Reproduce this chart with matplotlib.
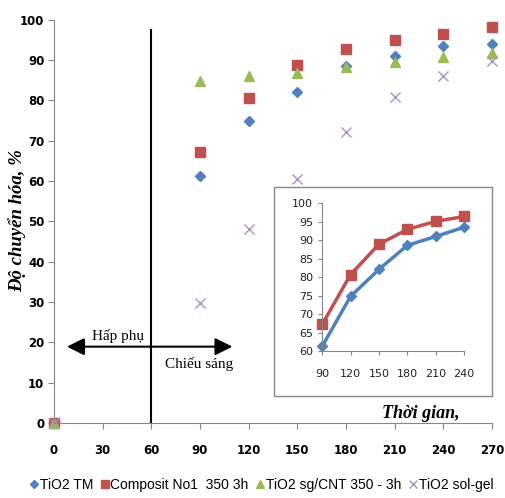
import matplotlib
matplotlib.use('Agg')
import matplotlib.pyplot as plt
from matplotlib.patches import Rectangle

# thoi gian (phut)
t = [0, 90, 120, 150, 180, 210, 240, 270]
tio2_tm = [0, 61.3, 74.8, 82.1, 88.6, 91.0, 93.5, 94.1]
composit = [0, 67.2, 80.7, 88.9, 92.9, 95.1, 96.4, 98.3]
sg_cnt = [0, 84.9, 86.0, 86.9, 88.3, 89.5, 90.7, 91.7]
sol_gel = [0, 29.8, 48.2, 60.4, 72.2, 80.9, 86.1, 89.8]

# do thi nho
t_in = [90, 120, 150, 180, 210, 240]
tm_in = [61.3, 74.8, 82.1, 88.6, 91.0, 93.5]
comp_in = [67.2, 80.7, 88.9, 92.9, 95.1, 96.4]

names = ['TiO2 TM', 'Composit No1  350 3h', 'TiO2 sg/CNT 350 - 3h', 'TiO2 sol-gel']

blue = '#4F81BD'
red = '#C0504D'
green = '#9BBB59'
purple = '#A895C4'
gray = '#868686'

fig = plt.figure(figsize=(5.05, 4.98), dpi=100)
ax = fig.add_axes([0.107, 0.151, 0.867, 0.809])

ax.plot(t, tio2_tm, 'D', color=blue, ms=5.5, ls='none', label=names[0], clip_on=False)
ax.plot(t, composit, 's', color=red, ms=7, ls='none', label=names[1], clip_on=False)
ax.plot(t, sg_cnt, '^', color=green, ms=7.5, ls='none', label=names[2], clip_on=False)
ax.plot(t, sol_gel, 'x', color=purple, ms=7.5, mew=1, ls='none', label=names[3], clip_on=False)

ax.set_xlim(0, 270)
ax.set_ylim(0, 100)
ax.set_xticks(range(0, 271, 30))
ax.set_yticks(range(0, 101, 10))
for s in ['top', 'right']:
    ax.spines[s].set_visible(False)
for s in ['left', 'bottom']:
    ax.spines[s].set_color(gray)
ax.tick_params(colors=gray, length=4, width=0.8, labelcolor='black', pad=3)
for lb in ax.get_xticklabels() + ax.get_yticklabels():
    lb.set_fontweight('bold')
    lb.set_fontsize(8.5)
ax.tick_params(axis='x', pad=11)

# vach chia hap phu / chieu sang
ax.plot([60, 60], [0, 97.4], color='black', lw=1.5)
arrow = dict(arrowstyle='-|>,head_length=0.7,head_width=0.35', color='black', lw=1.5,
             mutation_scale=15, shrinkA=0, shrinkB=0)
ax.annotate('', xy=(8, 18.9), xytext=(60, 18.9), arrowprops=arrow)
ax.annotate('', xy=(110, 18.9), xytext=(60, 18.9), arrowprops=arrow)
ax.text(39.5, 21.6, 'Hấp phụ', family='Liberation Serif', fontsize=11, ha='center', va='center')
ax.text(89.5, 14.6, 'Chiếu sáng', family='Liberation Serif', fontsize=11, ha='center', va='center')

ax.text(0.927, 0.022, 'Thời gian,', transform=ax.transAxes, family='Liberation Serif',
        fontsize=13, fontweight='bold', style='italic', ha='right', va='center')
fig.text(0.033, 0.558, 'Độ chuyển hóa, %', family='Liberation Serif', fontsize=13.5,
         fontweight='bold', style='italic', rotation=90, ha='center', va='center')

leg = ax.legend(loc='center', bbox_to_anchor=(0.474, -0.155), ncol=4, frameon=False,
                prop={'family': 'Liberation Sans', 'size': 10}, handlelength=0.6,
                handletextpad=0.1, columnspacing=0.55, borderaxespad=0, markerscale=0.8)

# khung do thi nho
fig.patches.append(Rectangle((0.543, 0.205), 0.432, 0.42, transform=fig.transFigure,
                             facecolor='white', edgecolor=gray, lw=1, zorder=1))

ins = fig.add_axes([0.638, 0.295, 0.281, 0.297])
ins.set_zorder(2)
ins.patch.set_alpha(0)
ins.plot(t_in, tm_in, color=blue, lw=2.5, marker='D', ms=5, clip_on=False)
ins.plot(t_in, comp_in, color=red, lw=2.5, marker='s', ms=7.5, clip_on=False)
ins.set_xlim(90, 240)
ins.set_ylim(60, 100)
ins.set_xticks(t_in)
ins.set_yticks(range(60, 101, 5))
for s in ['top', 'right']:
    ins.spines[s].set_visible(False)
for s in ['left', 'bottom']:
    ins.spines[s].set_color(gray)
ins.tick_params(colors=gray, length=3, width=0.8, labelcolor='#222222', labelsize=8)
ins.tick_params(axis='x', pad=10)

fig.savefig('out.png', dpi=100)
